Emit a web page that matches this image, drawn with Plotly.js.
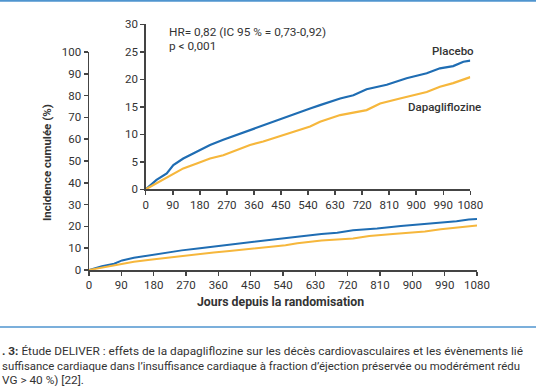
<!DOCTYPE html>
<html>
<head>
<meta charset="utf-8">
<script src="https://cdn.plot.ly/plotly-3.0.1.min.js"></script>
<style>html,body{margin:0;padding:0;background:#fff;}#chart{width:536px;height:386px;}</style>
</head>
<body>
<div id="chart"></div>
<script>
// Data (cumulative incidence, %)
const placeboDays = [0,36,70,92,125,170,214,258,303,347,391,436,480,513,547,580,647,691,735,802,868,935,979,1023,1057,1080];
const placeboVals = [0,1.7,2.9,4.4,5.6,6.8,8.05,9.0,9.9,10.8,11.7,12.6,13.4,14.1,14.7,15.3,16.5,17.1,18.2,19.0,20.2,21.1,22.0,22.4,23.2,23.4];
const dapaDays = [0,36,81,125,170,214,258,303,347,391,436,480,513,547,580,647,735,780,846,935,979,1023,1080];
const dapaVals = [0,1.1,2.6,3.8,4.7,5.6,6.2,7.1,8.05,8.7,9.45,10.2,10.8,11.4,12.3,13.5,14.4,15.6,16.5,17.7,18.65,19.3,20.4];
const xTicks = [0,90,180,270,360,450,540,630,720,810,900,990,1080];
const yTicksMain = [0,10,20,30,40,50,60,70,80,90,100];
const yTicksInset = [0,5,10,15,20,25,30];
const seriesNames = ["Placebo","Dapagliflozine"];
const hrText = "HR= 0,82 (IC 95 % = 0,73-0,92)";
const pText = "p < 0,001";
const xTitle = "Jours depuis la randomisation";
const yTitle = "Incidence cumulée (%)";
const caption1 = "<b>. 3:</b> Étude DELIVER : effets de la dapagliflozine sur les décès cardiovasculaires et les évènements lié";
const caption2 = "suffisance cardiaque dans l’insuffisance cardiaque à fraction d’éjection préservée ou modérément rédu";
const caption3 = "VG > 40 %) [22].";

const W = 536, H = 386;
const px = x => x / W;
const py = y => 1 - y / H;
const BLUE = "#1f6db3", ORANGE = "#f6b73c", TXT = "#333333", AX = "#444444";
const FONT = "Roboto, 'DejaVu Sans', sans-serif";

const traces = [
  {x: placeboDays, y: placeboVals, xaxis: "x", yaxis: "y", mode: "lines", line: {color: BLUE, width: 2}, name: seriesNames[0]},
  {x: dapaDays, y: dapaVals, xaxis: "x", yaxis: "y", mode: "lines", line: {color: ORANGE, width: 2}, name: seriesNames[1]},
  {x: placeboDays, y: placeboVals, xaxis: "x2", yaxis: "y2", mode: "lines", line: {color: BLUE, width: 2.2}, name: seriesNames[0]},
  {x: dapaDays, y: dapaVals, xaxis: "x2", yaxis: "y2", mode: "lines", line: {color: ORANGE, width: 2.2}, name: seriesNames[1]}
];

const axCommon = {
  showline: true, linecolor: AX, linewidth: 1.5,
  ticks: "outside", ticklen: 4, tickwidth: 1.5, tickcolor: AX,
  showgrid: false, zeroline: false, fixedrange: true,
  tickfont: {family: FONT, size: 11.5, color: TXT}
};

const layout = {
  width: W, height: H,
  margin: {l: 0, r: 0, t: 0, b: 0},
  paper_bgcolor: "#ffffff", plot_bgcolor: "rgba(0,0,0,0)",
  showlegend: false,
  font: {family: FONT, color: TXT},
  xaxis: Object.assign({}, axCommon, {domain: [px(89), px(477)], range: [0, 1080], tickvals: xTicks, ticktext: xTicks.map(String), anchor: "y"}),
  yaxis: Object.assign({}, axCommon, {domain: [py(270), py(52)], range: [0, 100], tickvals: yTicksMain, ticktext: yTicksMain.map(String), anchor: "x"}),
  xaxis2: Object.assign({}, axCommon, {domain: [px(145.7), px(470.3)], range: [0, 1080], tickvals: xTicks, ticktext: xTicks.map(String), anchor: "y2"}),
  yaxis2: Object.assign({}, axCommon, {domain: [py(189.3), py(24.3)], range: [0, 30], tickvals: yTicksInset, ticktext: yTicksInset.map(String), anchor: "x2"}),
  shapes: [
    {type: "line", xref: "paper", yref: "paper", x0: 0, x1: 1, y0: py(0.8), y1: py(0.8), line: {color: "#4f95cf", width: 2}},
    {type: "line", xref: "paper", yref: "paper", x0: 0, x1: 1, y0: py(327), y1: py(327), line: {color: "#4f95cf", width: 1.5}}
  ],
  annotations: [
    {xref: "paper", yref: "paper", x: px(167), y: py(32), xanchor: "left", yanchor: "middle", showarrow: false, text: hrText, font: {family: FONT, size: 11.8, color: TXT}},
    {xref: "paper", yref: "paper", x: px(167), y: py(46), xanchor: "left", yanchor: "middle", showarrow: false, text: pText, font: {family: FONT, size: 11.8, color: TXT}},
    {xref: "paper", yref: "paper", x: px(476), y: py(51), xanchor: "right", yanchor: "middle", showarrow: false, text: seriesNames[0], font: {family: FONT, size: 11.5, color: TXT, weight: 500}},
    {xref: "paper", yref: "paper", x: px(483), y: py(107), xanchor: "right", yanchor: "middle", showarrow: false, text: seriesNames[1], font: {family: FONT, size: 11.5, color: TXT, weight: 500}},
    {xref: "paper", yref: "paper", x: px(280), y: py(302), xanchor: "center", yanchor: "middle", showarrow: false, text: "<b>" + xTitle + "</b>", font: {family: FONT, size: 12.3, color: TXT}},
    {xref: "paper", yref: "paper", x: px(47), y: py(163), xanchor: "center", yanchor: "middle", textangle: -90, showarrow: false, text: "<b>" + yTitle + "</b>", font: {family: FONT, size: 11.5, color: TXT}},
    {xref: "paper", yref: "paper", x: px(0), y: py(351), xanchor: "left", yanchor: "middle", showarrow: false, text: caption1, font: {family: FONT, size: 11.8, color: TXT}},
    {xref: "paper", yref: "paper", x: px(0), y: py(366), xanchor: "left", yanchor: "middle", showarrow: false, text: caption2, font: {family: FONT, size: 11.4, color: TXT}},
    {xref: "paper", yref: "paper", x: px(0), y: py(380), xanchor: "left", yanchor: "middle", showarrow: false, text: caption3, font: {family: FONT, size: 11.8, color: TXT}}
  ]
};

Plotly.newPlot("chart", traces, layout, {displayModeBar: false, staticPlot: true});
</script>
</body>
</html>
